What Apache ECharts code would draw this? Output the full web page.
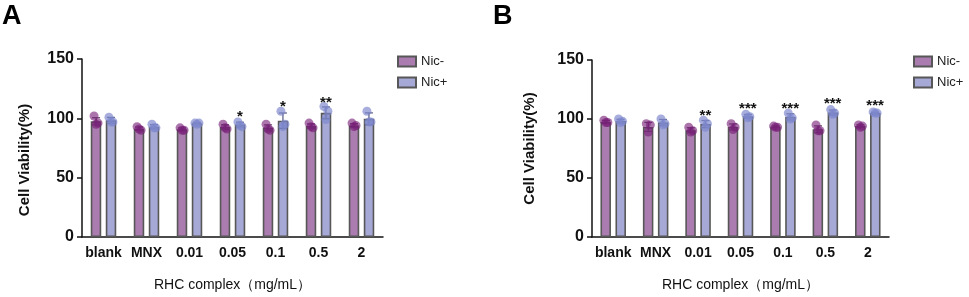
<!DOCTYPE html>
<html>
<head>
<meta charset="utf-8">
<script src="https://cdn.jsdelivr.net/npm/echarts@6/dist/echarts.min.js"></script>
<style>
  html, body { margin: 0; padding: 0; background: #fff; }
  #chart { width: 969px; height: 297px; }
</style>
</head>
<body>
<div id="chart"></div>
<script>
var categories = ['blank', 'MNX', '0.01', '0.05', '0.1', '0.5', '2'];
var yTicks = [0, 50, 100, 150];

// panel A
var meanA_neg = [97.5, 91.2, 90.7, 92.6, 92.0, 93.5, 94.0];
var meanA_pos = [98.3, 92.9, 95.8, 94.7, 98.0, 104.6, 99.6];
var sdA_neg = [3.0, 1.5, 1.2, 2.0, 2.5, 1.8, 1.5];
var sdA_pos = [2.5, 1.8, 0.6, 2.0, 6.5, 5.0, 5.0];
var ptsA_neg = [[102, 96, 95], [93, 90, 91], [92, 90, 90], [95, 91, 92], [95, 90, 91], [96, 92, 93], [96, 94, 93]];
var ptsA_pos = [[101, 97, 97], [95, 92, 92], [96, 96, 95], [97, 93, 94], [106, 95, 93], [110, 106, 99], [106, 97, 97]];
var starsA = ['', '', '', '*', '*', '**', ''];
var starYA = [0, 0, 0, 104.5, 113, 116.5, 0];

// panel B
var meanB_neg = [97.5, 93.3, 90.5, 93.3, 93.5, 91.3, 94.0];
var meanB_pos = [98.2, 97.0, 95.7, 102.3, 101.8, 105.5, 105.0];
var sdB_neg = [1.2, 3.8, 2.1, 2.5, 0.6, 2.9, 1.0];
var sdB_pos = [1.5, 2.6, 3.0, 1.5, 2.6, 2.1, 0.6];
var ptsB_neg = [[99, 97, 97], [96, 95, 89], [93, 90, 89], [96, 93, 91], [94, 93, 93], [95, 90, 90], [95, 94, 93]];
var ptsB_pos = [[100, 98, 97], [100, 96, 95], [99, 96, 93], [104, 102, 101], [105, 101, 100], [108, 105, 104], [106, 105, 105]];
var starsB = ['', '', '**', '***', '***', '***', '***'];
var starYB = [0, 0, 106.3, 112, 112, 116.5, 114.6];

var FONT = '"Liberation Sans", Arial, sans-serif';
var colNeg = '#ab7cb0', colPos = '#a6a9d6';
var dotNeg = 'rgba(120,30,120,0.62)', dotPos = 'rgba(125,135,205,0.68)';
var jitter = [-2, 2, 0];

function pointRows(mean, sd, pts) {
    return categories.map(function (c, i) {
        return [i, mean[i], sd[i], pts[i][0], pts[i][1], pts[i][2]];
    });
}

function errDots(side, dotColor, capColor) {
    return function (params, api) {
        var i = api.value(0), m = api.value(1), sd = api.value(2);
        var band = api.size([1, 0])[0];
        var x = api.coord([i, m])[0] + side * band * 0.173;
        var top = api.coord([i, m + sd])[1];
        var bot = api.coord([i, m - sd])[1];
        var ls = { stroke: capColor, lineWidth: 1.3 };
        var children = [
            { type: 'line', shape: { x1: x, y1: top, x2: x, y2: bot }, style: ls },
            { type: 'line', shape: { x1: x - 4, y1: top, x2: x + 4, y2: top }, style: ls },
            { type: 'line', shape: { x1: x - 4, y1: bot, x2: x + 4, y2: bot }, style: ls }
        ];
        for (var k = 0; k < 3; k++) {
            var py = api.coord([i, api.value(3 + k)])[1];
            children.push({ type: 'circle', shape: { cx: x + jitter[k], cy: py, r: 4.5 }, style: { fill: dotColor } });
        }
        return { type: 'group', children: children };
    };
}

function starRender(params, api) {
    var i = api.value(0);
    var txt = api.value(2);
    if (!txt) return;
    var band = api.size([1, 0])[0];
    var p = api.coord([i, api.value(1)]);
    return {
        type: 'text',
        style: {
            x: p[0] + band * 0.173, y: p[1] + 4, text: txt,
            font: 'bold 15px ' + FONT, fill: '#111', align: 'center', verticalAlign: 'middle'
        }
    };
}

function starRows(stars, ys) {
    return categories.map(function (c, i) { return [i, ys[i], stars[i]]; });
}

function xAxisFor(idx) {
    return {
        type: 'category', gridIndex: idx, data: categories,
        axisLine: { lineStyle: { color: '#111', width: 1.5 } },
        axisTick: { alignWithLabel: true, length: 5, lineStyle: { color: '#111', width: 1.5 } },
        axisLabel: { color: '#111', fontSize: 14, fontWeight: 'bold', fontFamily: FONT, margin: 9, interval: 0 },
        name: 'RHC complex（mg/mL）', nameLocation: 'middle', nameGap: 41,
        nameTextStyle: { color: '#111', fontSize: 14, fontFamily: FONT }
    };
}

function yAxisFor(idx, gap, pad) {
    return {
        type: 'value', gridIndex: idx, min: 0, max: 150, interval: 50,
        axisLine: { show: true, lineStyle: { color: '#111', width: 1.5 } },
        axisTick: { show: true, length: 5, lineStyle: { color: '#111', width: 1.5 } },
        splitLine: { show: false },
        axisLabel: {
            color: '#111', fontSize: 16, fontWeight: 'bold', fontFamily: FONT, margin: 8,
            formatter: function (v) { return yTicks.indexOf(v) >= 0 ? String(v) : ''; }
        },
        name: 'Cell Viability(%)', nameLocation: 'middle', nameGap: gap,
        nameTextStyle: { color: '#111', fontSize: 15, fontWeight: 'bold', fontFamily: FONT, padding: pad }
    };
}

function barSeries(name, idx, data, color) {
    return {
        name: name, type: 'bar', xAxisIndex: idx, yAxisIndex: idx,
        data: data, barWidth: 10.5, barGap: '43%',
        itemStyle: { color: color, borderColor: '#575757', borderWidth: 1.6 }
    };
}

function customSeries(idx, rows, side, dotColor, capColor) {
    return {
        type: 'custom', xAxisIndex: idx, yAxisIndex: idx, z: 5,
        renderItem: errDots(side, dotColor, capColor),
        encode: { x: 0, y: 1 }, data: rows, silent: true
    };
}

function legendFor(left) {
    return {
        left: left, top: 50, orient: 'vertical', itemWidth: 18, itemHeight: 10, itemGap: 8,
        icon: 'rect',
        data: ['Nic-', 'Nic+'],
        textStyle: { color: '#222', fontSize: 13, fontFamily: FONT }
    };
}

var chart = echarts.init(document.getElementById('chart'), null, { renderer: 'canvas' });

var option = {
    animation: false,
    backgroundColor: '#fff',
    title: [
        { text: 'A', left: -3, top: -2, textStyle: { fontSize: 27, fontWeight: 900, color: '#000', fontFamily: FONT } },
        { text: 'B', left: 488, top: -2, textStyle: { fontSize: 27, fontWeight: 900, color: '#000', fontFamily: FONT } }
    ],
    legend: [legendFor(392), legendFor(908)],
    grid: [
        { left: 82, top: 59, width: 301, height: 188 },
        { left: 592, top: 60, width: 297, height: 187 }
    ],
    xAxis: [xAxisFor(0), xAxisFor(1)],
    yAxis: [yAxisFor(0, 50, [0, 24, 0, 0]), yAxisFor(1, 55, 0)],
    series: [
        barSeries('Nic-', 0, meanA_neg, colNeg),
        barSeries('Nic+', 0, meanA_pos, colPos),
        barSeries('Nic-', 1, meanB_neg, colNeg),
        barSeries('Nic+', 1, meanB_pos, colPos),
        customSeries(0, pointRows(meanA_neg, sdA_neg, ptsA_neg), -1, dotNeg, '#6a4a6e'),
        customSeries(0, pointRows(meanA_pos, sdA_pos, ptsA_pos), 1, dotPos, '#5f6488'),
        customSeries(1, pointRows(meanB_neg, sdB_neg, ptsB_neg), -1, dotNeg, '#6a4a6e'),
        customSeries(1, pointRows(meanB_pos, sdB_pos, ptsB_pos), 1, dotPos, '#5f6488'),
        { type: 'custom', xAxisIndex: 0, yAxisIndex: 0, z: 6, renderItem: starRender, encode: { x: 0, y: 1 }, data: starRows(starsA, starYA) },
        { type: 'custom', xAxisIndex: 1, yAxisIndex: 1, z: 6, renderItem: starRender, encode: { x: 0, y: 1 }, data: starRows(starsB, starYB) }
    ]
};

chart.setOption(option);
</script>
</body>
</html>
